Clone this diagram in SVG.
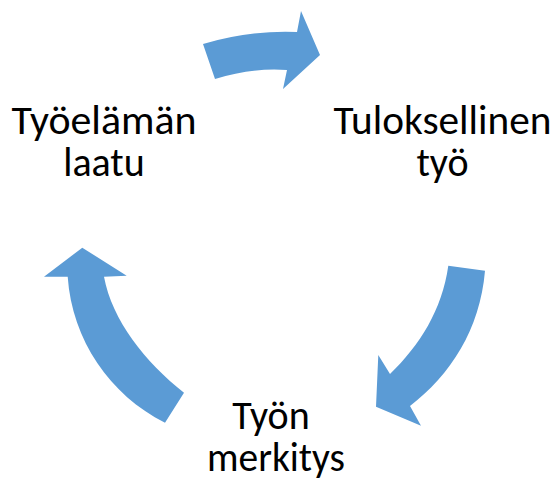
<svg xmlns="http://www.w3.org/2000/svg" width="560" height="479" viewBox="0 0 560 479">
  <style>
    .arrow { fill: #5B9BD5; stroke: none; }
    .label { font-family: Carlito, Lato, "Liberation Sans", sans-serif; font-size: 40px; fill: #000000; text-anchor: middle; }
  </style>
  <rect width="560" height="479" fill="#ffffff"/>

  <!-- curved cycle arrows -->
  <g id="connectors">
    <path class="arrow" d="M203,44 Q250,30 297,32 L301,11 L320,55 L283,89 L287,70 Q251,67.5 215,79 Z"/>
    <path class="arrow" d="M448.3,265.7 L485,270.7 C480,330 450,375 410,406 L421,425.7 L376,406.7 L378.3,355 L390,374 C420,345 442,310 448.3,265.7 Z"/>
    <path class="arrow" d="M165,422.7 L184,392.7 C145,362 112,320 104,276.7 L126.7,275.7 L82.3,247.7 L44,276.7 L67.7,276.7 C72,340 110,395 165,422.7 Z"/>
  </g>

  <g id="node-tyoelaman-laatu">
    <text class="label" x="104" y="134" textLength="185" lengthAdjust="spacingAndGlyphs">Työelämän</text>
    <text class="label" x="104" y="176">laatu</text>
  </g>

  <g id="node-tuloksellinen-tyo">
    <text class="label" x="442.5" y="134" textLength="218" lengthAdjust="spacingAndGlyphs">Tuloksellinen</text>
    <text class="label" x="442.5" y="176">työ</text>
  </g>

  <g id="node-tyon-merkitys">
    <text class="label" x="271" y="429">Työn</text>
    <text class="label" x="276" y="471" textLength="138" lengthAdjust="spacingAndGlyphs">merkitys</text>
  </g>
</svg>
